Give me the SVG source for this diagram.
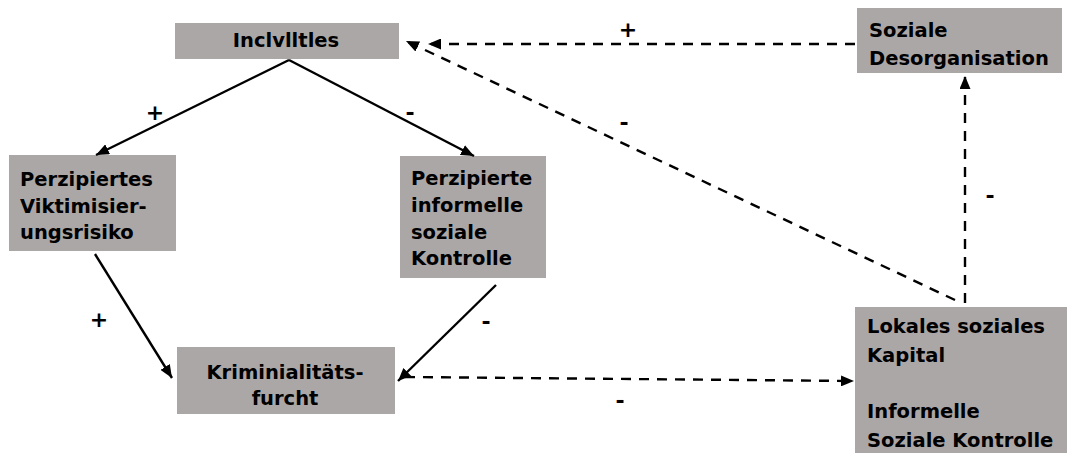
<svg xmlns="http://www.w3.org/2000/svg" width="1067" height="453" viewBox="0 0 1067 453">
<style>
.box{fill:#aca7a7}
.t{font-family:"DejaVu Sans",Verdana,sans-serif;font-weight:bold;font-size:19.5px;fill:#000}
.lbl{font-family:"DejaVu Sans",Verdana,sans-serif;font-weight:bold;font-size:22px;fill:#000}
.ln{stroke:#000;stroke-width:2.4;fill:none}
.d{stroke-dasharray:10,8}
</style>
<defs>
<marker id="ah" viewBox="0 0 13 11" refX="13" refY="5.5" markerWidth="13" markerHeight="11" markerUnits="userSpaceOnUse" orient="auto">
<path d="M0,0 L13,5.5 L0,11 z" fill="#000"/>
</marker>
</defs>
<rect width="1067" height="453" fill="#fff"/>
<g id="incivilities"><rect class="box" x="175" y="23" width="224" height="36"/><text class="t" x="286" y="47" text-anchor="middle">Inclvlltles</text></g>
<g id="viktimisierung"><rect class="box" x="9" y="155" width="167" height="96"/><text class="t" x="20" y="186">Perzipiertes</text><text class="t" x="20" y="213">Viktimisier-</text><text class="t" x="20" y="239">ungsrisiko</text></g>
<g id="kontrolle"><rect class="box" x="400" y="156" width="146" height="122"/><text class="t" x="411" y="185">Perzipierte</text><text class="t" x="411" y="212">informelle</text><text class="t" x="411" y="239">soziale</text><text class="t" x="411" y="265">Kontrolle</text></g>
<g id="furcht"><rect class="box" x="177" y="347" width="218" height="67"/><text class="t" x="285" y="379" text-anchor="middle">Kriminialitäts-</text><text class="t" x="285" y="405" text-anchor="middle">furcht</text></g>
<g id="desorganisation"><rect class="box" x="857" y="8" width="205" height="65"/><text class="t" x="869" y="37">Soziale</text><text class="t" x="869" y="65">Desorganisation</text></g>
<g id="kapital"><rect class="box" x="855" y="307" width="212" height="146"/><text class="t" x="867" y="333">Lokales soziales</text><text class="t" x="867" y="362">Kapital</text><text class="t" x="867" y="418">Informelle</text><text class="t" x="867" y="447">Soziale Kontrolle</text></g>
<g id="connectors">
<line class="ln" x1="289" y1="60" x2="96" y2="155" marker-end="url(#ah)"/>
<line class="ln" x1="289" y1="60" x2="474" y2="156" marker-end="url(#ah)"/>
<line class="ln" x1="95" y1="254" x2="172" y2="378" marker-end="url(#ah)"/>
<line class="ln" x1="496" y1="285" x2="398" y2="381" marker-end="url(#ah)"/>
<line class="ln d" x1="405" y1="377" x2="854" y2="381" marker-end="url(#ah)"/>
<line class="ln d" x1="855" y1="44" x2="428" y2="44" marker-end="url(#ah)"/>
<line class="ln d" x1="955" y1="300" x2="406" y2="41" marker-end="url(#ah)"/>
<line class="ln d" x1="965" y1="303" x2="965" y2="76" marker-end="url(#ah)"/>
<text class="lbl" x="155" y="120" text-anchor="middle">+</text>
<text class="lbl" x="410" y="120" text-anchor="middle">-</text>
<text class="lbl" x="99" y="327" text-anchor="middle">+</text>
<text class="lbl" x="486" y="329" text-anchor="middle">-</text>
<text class="lbl" x="620" y="408" text-anchor="middle">-</text>
<text class="lbl" x="628" y="37" text-anchor="middle">+</text>
<text class="lbl" x="624" y="130" text-anchor="middle">-</text>
<text class="lbl" x="990" y="203" text-anchor="middle">-</text>
</g>
</svg>
